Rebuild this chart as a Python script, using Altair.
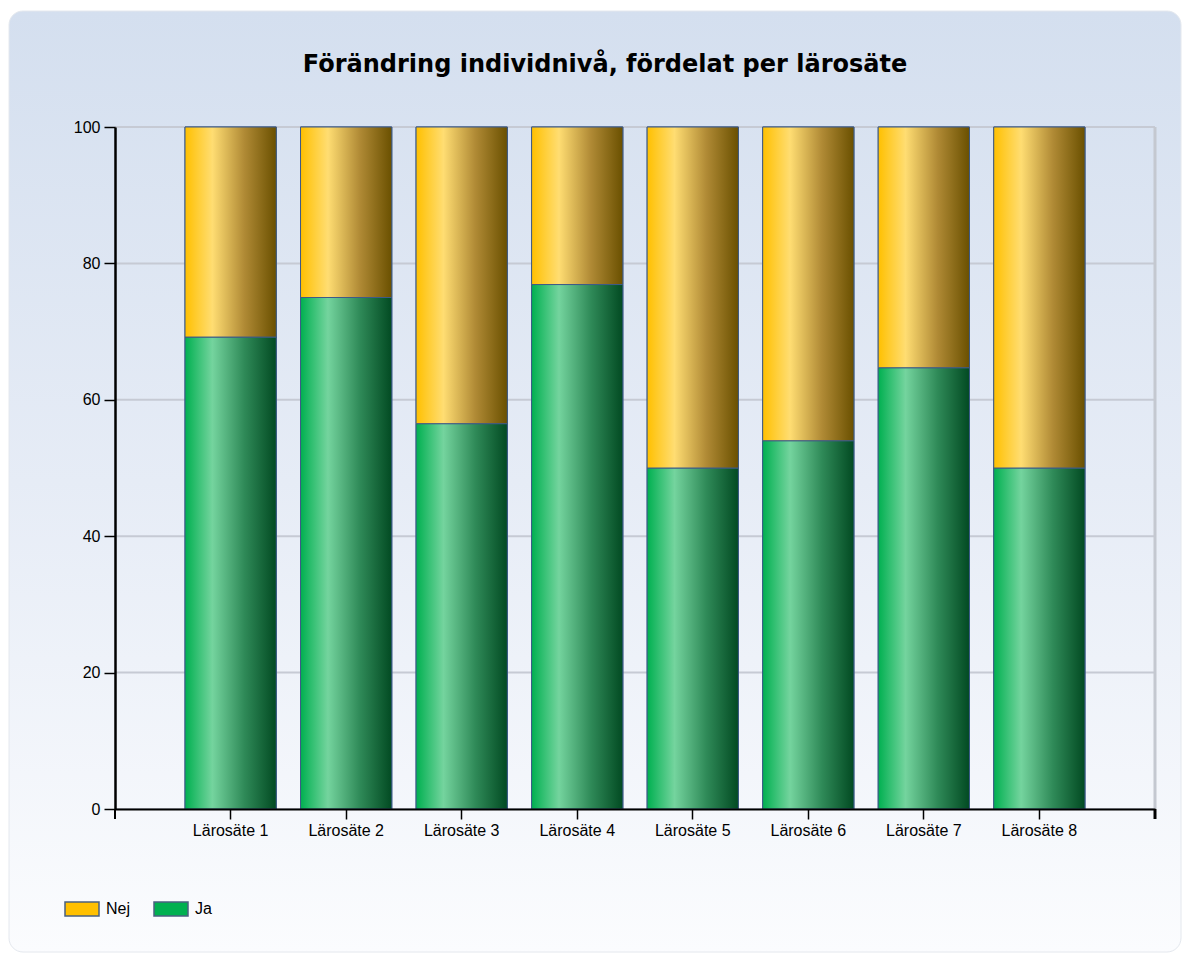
import altair as alt
import pandas as pd

# ---- data ----
categories = ["Lärosäte 1", "Lärosäte 2", "Lärosäte 3", "Lärosäte 4",
              "Lärosäte 5", "Lärosäte 6", "Lärosäte 7", "Lärosäte 8"]
ja_values = [69.2, 75.0, 56.5, 76.9, 50.0, 54.0, 64.7, 50.0]
nej_values = [30.8, 25.0, 43.5, 23.1, 50.0, 46.0, 35.3, 50.0]
series = ["Nej", "Ja"]
series_colors = ["#FFC000", "#00B050"]
y_ticks = [0, 20, 40, 60, 80, 100]
title_text = "Förändring individnivå, fördelat per lärosäte"

rows = []
for c, ja, nej in zip(categories, ja_values, nej_values):
    rows.append({"cat": c, "serie": "Ja", "lo": 0.0, "hi": ja})
    rows.append({"cat": c, "serie": "Nej", "lo": ja, "hi": ja + nej})
df = pd.DataFrame(rows)
grid_df = pd.DataFrame({"hi": y_ticks})
one = pd.DataFrame({"label": [title_text]})

W, H = 1040, 682
BORDER = "#3d5a88"
LABEL_FONT = "Liberation Sans"
LABEL_SIZE = 16

green_grad = alt.Gradient(
    gradient="linear", x1=0, x2=1, y1=0, y2=0,
    stops=[alt.GradientStop(offset=0, color="#00b050"),
           alt.GradientStop(offset=0.3, color="#74d49e"),
           alt.GradientStop(offset=0.65, color="#2f8a58"),
           alt.GradientStop(offset=1, color="#024a22")])
orange_grad = alt.Gradient(
    gradient="linear", x1=0, x2=1, y1=0, y2=0,
    stops=[alt.GradientStop(offset=0, color="#ffc000"),
           alt.GradientStop(offset=0.3, color="#ffdd72"),
           alt.GradientStop(offset=0.65, color="#b08a35"),
           alt.GradientStop(offset=1, color="#6a5000")])
bg_grad = alt.Gradient(
    gradient="linear", x1=0, x2=0, y1=0, y2=1,
    stops=[alt.GradientStop(offset=0, color="#d4dfef"),
           alt.GradientStop(offset=0.5, color="#e6ecf6"),
           alt.GradientStop(offset=1, color="#fbfcfe")])

x_enc = alt.X("cat:N", sort=categories,
              scale=alt.Scale(paddingInner=0.21, paddingOuter=0.606),
              axis=alt.Axis(title=None, labelAngle=0, domainColor="black",
                            domainWidth=2, tickColor="black", tickWidth=1.5,
                            tickSize=10, labelPadding=3, grid=False,
                            zindex=2))
y_enc = alt.Y("hi:Q", scale=alt.Scale(domain=[0, 100], nice=False),
              axis=alt.Axis(title=None, values=y_ticks, grid=False,
                            domainColor="black", domainWidth=2.5,
                            tickColor="black", tickWidth=1.5, tickSize=11,
                            labelPadding=4, zindex=2))

background = alt.Chart(one).mark_rect(
    fill=bg_grad, cornerRadius=14, stroke="#e4e8ee", strokeWidth=1
).encode(x=alt.value(-106), x2=alt.value(1066),
         y=alt.value(-116), y2=alt.value(825))

title_mark = alt.Chart(one).mark_text(
    font="DejaVu Sans", fontSize=24, fontWeight="bold", color="black",
    align="center", baseline="alphabetic"
).encode(text="label:N", x=alt.value(490), y=alt.value(-55))

grid = alt.Chart(grid_df).mark_rule(color="#c6cad4", strokeWidth=2).encode(
    y=y_enc, x=alt.value(0), x2=alt.value(W))

right_border = alt.Chart(one).mark_rule(color="#c4c8d0", strokeWidth=3).encode(
    x=alt.value(W), y=alt.value(0), y2=alt.value(H))

end_ticks_l = alt.Chart(one).mark_rule(color="black", strokeWidth=2).encode(
    x=alt.value(0), y=alt.value(H), y2=alt.value(H + 10))
end_ticks_r = alt.Chart(one).mark_rule(color="black", strokeWidth=3).encode(
    x=alt.value(W), y=alt.value(H), y2=alt.value(H + 10))

base = alt.Chart(df).mark_bar(stroke=BORDER, strokeWidth=1).encode(
    x=x_enc, y=y_enc, y2="lo:Q",
    color=alt.Color("serie:N",
                    scale=alt.Scale(domain=series, range=series_colors),
                    legend=alt.Legend(
                        title=None, orient="none", legendX=-51, legendY=764,
                        direction="horizontal",
                        symbolType="M-1,-0.41L1,-0.41L1,0.41L-1,0.41Z",
                        symbolSize=1156, symbolStrokeColor="#4a6080",
                        symbolStrokeWidth=1.5, symbolOpacity=1,
                        labelFont=LABEL_FONT, labelFontSize=LABEL_SIZE,
                        labelColor="black", labelOffset=6,
                        columnPadding=20, zindex=2)))

ja_layer = alt.Chart(df).transform_filter(alt.datum.serie == "Ja").mark_bar(
    fill=green_grad, stroke=BORDER, strokeWidth=1).encode(
    x=x_enc, y=y_enc, y2="lo:Q")
nej_layer = alt.Chart(df).transform_filter(alt.datum.serie == "Nej").mark_bar(
    fill=orange_grad, stroke=BORDER, strokeWidth=1).encode(
    x=x_enc, y=y_enc, y2="lo:Q")

chart = alt.layer(
    background, title_mark, grid, right_border, base, ja_layer, nej_layer,
    end_ticks_l, end_ticks_r
).properties(
    width=W, height=H,
    autosize=alt.AutoSizeParams(type="none"),
    padding={"left": 107, "top": 119, "right": 27, "bottom": 145},
).configure(
    background="white",
).configure_view(
    stroke=None,
).configure_axis(
    labelFont=LABEL_FONT, labelFontSize=LABEL_SIZE, labelColor="black",
)

chart.save("out.html", embed_options={"renderer": "svg", "actions": False})
